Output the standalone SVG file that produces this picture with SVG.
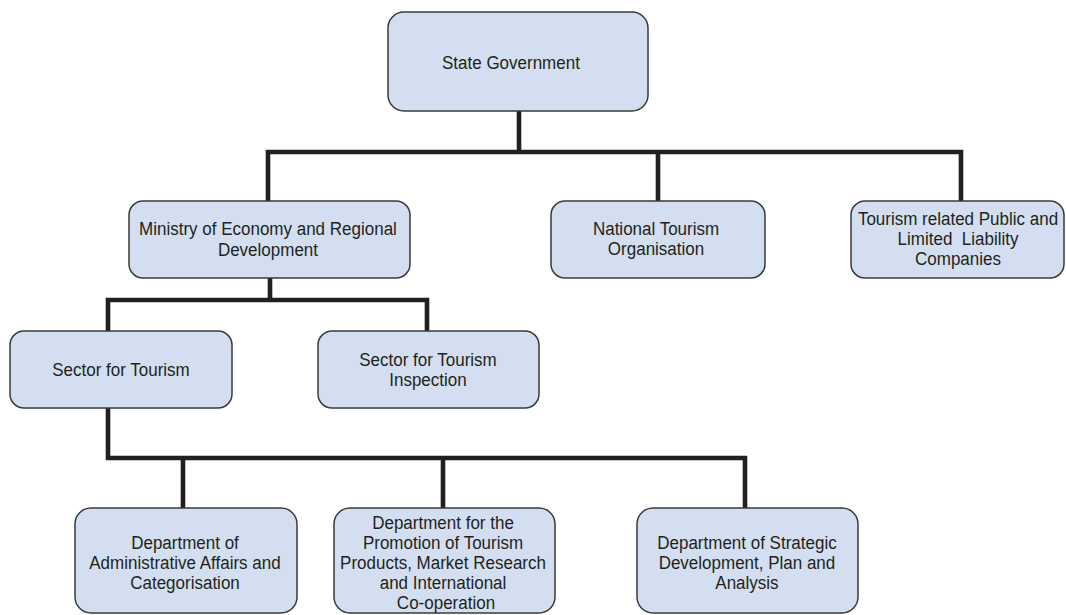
<svg xmlns="http://www.w3.org/2000/svg" width="1066" height="615" viewBox="0 0 1066 615">
<style>
.box{fill:#d3dff0;stroke:#3a3a3a;stroke-width:1.5}
.t{font-family:"Liberation Sans",Arial,sans-serif;font-size:19px;fill:#231f20;text-anchor:middle;white-space:pre}
.c{fill:none;stroke:#231f20;stroke-width:4.6;stroke-linecap:square;stroke-linejoin:miter}
</style>
<rect width="1066" height="615" fill="#ffffff"/>
<g id="connectors">
<path class="c" d="M519 111V152M268 201V152H961V201M658 152V201"/>
<path class="c" d="M270 278V300M108 331V300H427V332"/>
<path class="c" d="M108 408V458H745V508M183 458V508M443 458V508"/>
</g>
<g id="state-government">
<rect class="box" x="388" y="12" width="260" height="99" rx="16"/>
<text class="t" transform="scale(0.895 1)" x="570.9" y="69">State Government</text>
</g>
<g id="ministry">
<rect class="box" x="129" y="201" width="281" height="77" rx="14"/>
<text class="t" transform="scale(0.895 1)" x="299.4" y="235">Ministry of Economy and Regional</text>
<text class="t" transform="scale(0.895 1)" x="299.4" y="256">Development</text>
</g>
<g id="national-tourism">
<rect class="box" x="551" y="201" width="214" height="77" rx="14"/>
<text class="t" transform="scale(0.895 1)" x="733" y="235">National Tourism</text>
<text class="t" transform="scale(0.895 1)" x="733" y="255">Organisation</text>
</g>
<g id="tourism-companies">
<rect class="box" x="851" y="201" width="213" height="77" rx="14"/>
<text class="t" transform="scale(0.895 1)" x="1070.4" y="225">Tourism related Public and</text>
<text class="t" transform="scale(0.895 1)" x="1070.4" y="245" xml:space="preserve">Limited  Liability</text>
<text class="t" transform="scale(0.895 1)" x="1070.4" y="265">Companies</text>
</g>
<g id="sector-tourism">
<rect class="box" x="10" y="331" width="222" height="77" rx="14"/>
<text class="t" transform="scale(0.895 1)" x="135.2" y="376">Sector for Tourism</text>
</g>
<g id="sector-inspection">
<rect class="box" x="318" y="331" width="221" height="77" rx="14"/>
<text class="t" transform="scale(0.895 1)" x="478.2" y="366">Sector for Tourism</text>
<text class="t" transform="scale(0.895 1)" x="478.2" y="386">Inspection</text>
</g>
<g id="dept-admin">
<rect class="box" x="75" y="508" width="222" height="105" rx="16"/>
<text class="t" transform="scale(0.895 1)" x="206.7" y="549">Department of</text>
<text class="t" transform="scale(0.895 1)" x="206.7" y="569">Administrative Affairs and</text>
<text class="t" transform="scale(0.895 1)" x="206.7" y="589">Categorisation</text>
</g>
<g id="dept-promotion">
<rect class="box" x="334" y="508" width="221" height="105" rx="16"/>
<text class="t" transform="scale(0.895 1)" x="495" y="529">Department for the</text>
<text class="t" transform="scale(0.895 1)" x="495" y="549">Promotion of Tourism</text>
<text class="t" transform="scale(0.895 1)" x="495" y="569">Products, Market Research</text>
<text class="t" transform="scale(0.895 1)" x="495" y="589">and International</text>
<text class="t" transform="scale(0.895 1)" x="498.3" y="609">Co-operation</text>
</g>
<g id="dept-strategic">
<rect class="box" x="637" y="508" width="221" height="105" rx="16"/>
<text class="t" transform="scale(0.895 1)" x="834.6" y="549">Department of Strategic</text>
<text class="t" transform="scale(0.895 1)" x="834.6" y="569">Development, Plan and</text>
<text class="t" transform="scale(0.895 1)" x="834.6" y="589">Analysis</text>
</g>
</svg>
